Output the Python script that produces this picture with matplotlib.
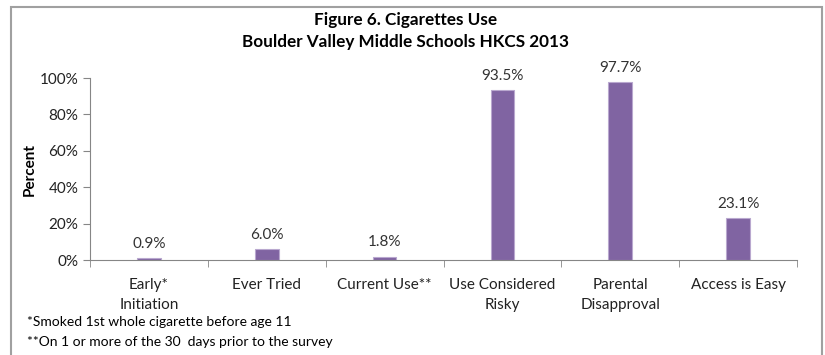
import matplotlib.pyplot as plt
from matplotlib.patches import Rectangle

# datos del grafico
categorias = ['Early*\nInitiation', 'Ever Tried', 'Current Use**',
              'Use Considered\nRisky', 'Parental\nDisapproval', 'Access is Easy']
valores = [0.9, 6.0, 1.8, 93.5, 97.7, 23.1]
ticks_y = [0, 20, 40, 60, 80, 100]

plt.rcParams['font.family'] = ['Lato', 'DejaVu Sans']

fig = plt.figure(figsize=(8.25, 3.55), dpi=100)
ax = fig.add_axes([90/825, 1-260/355, (797-90)/825, (260-78)/355])

pos = list(range(len(valores)))
ax.bar(pos, valores, width=0.2, color='#8064A2', edgecolor='#B9A8CF', linewidth=0.8)

for x, v in zip(pos, valores):
    ax.text(x, v + 4, '%.1f%%' % v, ha='center', va='bottom', fontsize=11, color='#333333')

ax.set_xlim(-0.5, len(valores) - 0.5)
ax.set_ylim(0, 100)
ax.set_yticks(ticks_y)
ax.set_yticklabels(['%d%%' % t for t in ticks_y], fontsize=11, color='#222222')
ax.set_xticks(pos)
ax.set_xticklabels(categorias, fontsize=11, color='#222222', linespacing=1.55)
ax.tick_params(axis='x', length=0, pad=13)
# marcas entre categorias
ax.set_xticks([p - 0.5 for p in pos] + [len(valores) - 0.5], minor=True)
ax.tick_params(axis='x', which='minor', length=5, color='#868686', direction='out')
ax.tick_params(axis='y', length=5, color='#868686', direction='out')

for s in ['top', 'right']:
    ax.spines[s].set_visible(False)
for s in ['left', 'bottom']:
    ax.spines[s].set_color('#868686')

ax.set_ylabel('Percent', fontsize=11, fontweight='bold', labelpad=2)

fig.text(0.492, 1-20/355, 'Figure 6. Cigarettes Use', ha='center', va='center',
         fontsize=12.3, fontweight='bold')
fig.text(0.492, 1-42/355, 'Boulder Valley Middle Schools HKCS 2013', ha='center', va='center',
         fontsize=12.3, fontweight='bold')

fig.text(27/825, 1-322/355, '*Smoked 1st whole cigarette before age 11', fontsize=10, va='center')
fig.text(27/825, 1-342/355, '**On 1 or more of the 30  days prior to the survey', fontsize=10, va='center')

# marco exterior
fig.patches.append(Rectangle((11/825, -0.05), 811/825, 1 - 7/355 + 0.05, transform=fig.transFigure,
                             fill=False, edgecolor='#A0A0A0', linewidth=1.5))

fig.savefig('out.png', dpi=100)
